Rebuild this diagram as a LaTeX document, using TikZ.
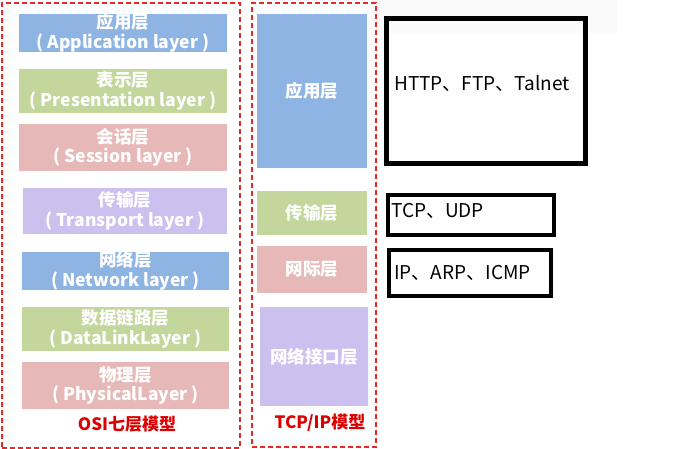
\documentclass[tikz,border=0pt]{standalone}
\usepackage{fontspec}
\setmainfont{Noto Sans CJK SC}
\definecolor{lblue}{RGB}{141,180,226}
\definecolor{lgreen}{RGB}{195,214,155}
\definecolor{lpink}{RGB}{230,185,184}
\definecolor{lpurple}{RGB}{204,192,238}
\definecolor{dred}{RGB}{232,40,40}
\definecolor{tred}{RGB}{220,0,0}
\tikzset{
  layer/.style={draw=none, inner sep=0pt, text=white, align=center,
    font=\fontsize{17.5}{19.5}\selectfont\bfseries},
  frame/.style={draw=dred, line width=1.5pt, dash pattern=on 5pt off 3pt},
  proto/.style={draw=black, line width=4.5pt, inner sep=0pt},
  protext/.style={anchor=west, inner sep=0pt, font=\fontsize{19}{22}\selectfont},
  title/.style={inner sep=0pt, text=tred, font=\fontsize{17}{19}\selectfont\bfseries}
}
\begin{document}
\begin{tikzpicture}[x=1pt,y=-1pt]
\useasboundingbox (0,0) rectangle (673,449);
\fill[black!2] (376,0) rectangle (618,33);
% frames
\node[frame, minimum width=238pt, minimum height=445pt, inner sep=0pt] (osi) at (121,225.5) {};
\node[frame, minimum width=124pt, minimum height=444pt, inner sep=0pt] (tcp) at (314,225) {};
% OSI layers
\node[layer, fill=lblue,   minimum width=208pt, minimum height=38pt] (app) at (123,33) {应用层\\( Application layer )};
\node[layer, fill=lgreen,  minimum width=208pt, minimum height=44pt] (pre) at (123,91) {表示层\\( Presentation layer )};
\node[layer, fill=lpink,   minimum width=208pt, minimum height=47pt] (ses) at (123,147.5) {会话层\\( Session layer )};
\node[layer, fill=lpurple, minimum width=204pt, minimum height=46pt] (tra) at (125,211) {传输层\\( Transport layer )};
\node[layer, fill=lblue,   minimum width=207pt, minimum height=38pt] (net) at (125.5,271) {网络层\\( Network layer )};
\node[layer, fill=lgreen,  minimum width=207pt, minimum height=44pt] (dl)  at (125.5,329) {数据链路层\\( DataLinkLayer )};
\node[layer, fill=lpink,   minimum width=207pt, minimum height=47pt] (phy) at (125.5,385.5) {物理层\\( PhysicalLayer )};
\node[title] (osit) at (127,424) {OSI七层模型};
% TCP/IP layers
\node[layer, fill=lblue,   minimum width=110pt, minimum height=154pt] (tapp) at (312,91) {应用层};
\node[layer, fill=lgreen,  minimum width=110pt, minimum height=44pt]  (ttra) at (312,213) {传输层};
\node[layer, fill=lpink,   minimum width=110pt, minimum height=47pt]  (tnet) at (312,269.5) {网际层};
\node[layer, fill=lpurple, minimum width=108pt, minimum height=99pt]  (tif)  at (314,356.5) {网络接口层};
\node[title] (tcpt) at (320,423) {TCP/IP模型};
% protocol boxes
\node[proto, minimum width=199pt, minimum height=145pt] (b1) at (486,91) {};
\node[proto, minimum width=166pt, minimum height=40pt] (b2) at (471,215) {};
\node[proto, minimum width=162pt, minimum height=46pt] (b3) at (470,273) {};
\node[protext] (t1) at (394,83) {HTTP、FTP、Talnet};
\node[protext] (t2) at (391,211) {TCP、UDP};
\node[protext] (t3) at (394,273) {IP、ARP、ICMP};
\end{tikzpicture}
\end{document}
